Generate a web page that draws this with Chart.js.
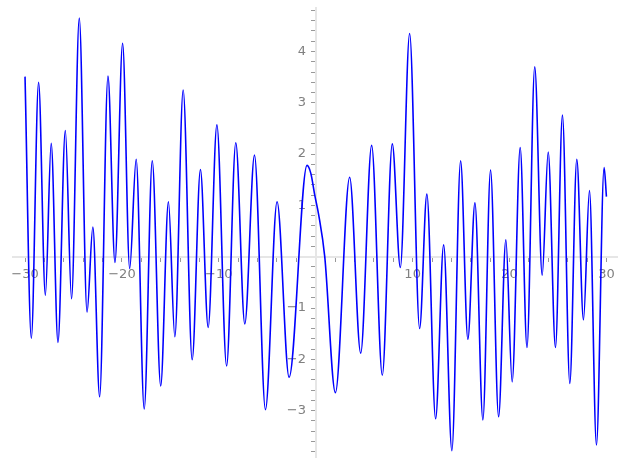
<!DOCTYPE html>
<html>
<head>
<meta charset="utf-8">
<script src="https://cdn.jsdelivr.net/npm/chart.js@4.4.0/dist/chart.umd.min.js"></script>
<style>
  html, body { margin: 0; padding: 0; background: #fff; }
  #wrap { width: 627px; height: 470px; }
</style>
</head>
<body>
<div id="wrap"><canvas id="plot"></canvas></div>
<script>
// local extrema (and a few shoulder points)
var xs = [-30, -29.35, -28.6, -27.9, -27.3, -26.6, -25.84, -25.2, -24.4, -23.6,
          -23.0, -22.3, -21.44, -20.72, -19.93, -19.2, -18.53, -17.7, -16.87, -16.0,
          -15.2, -14.54, -13.68, -12.75, -11.9, -11.1, -10.2, -9.2, -8.25, -7.32,
          -6.32, -5.19, -3.99, -2.75, -0.9, -0.5, -0.1, 0.3, 0.93, 2.03,
          3.5, 4.64, 5.77, 6.87, 7.9, 8.73, 9.69, 10.72, 11.47, 12.37,
          13.2, 14.05, 14.95, 15.7, 16.43, 17.25, 18.04, 18.87, 19.62, 20.27,
          21.1, 21.8, 22.6, 23.37, 23.99, 24.74, 25.46, 26.22, 26.94, 27.63,
          28.25, 28.97, 29.76, 30];
var ys = [3.51, -1.59, 3.40, -0.75, 2.21, -1.67, 2.46, -0.82, 4.65, -1.08,
          0.58, -2.73, 3.52, -0.11, 4.16, -0.23, 1.90, -2.97, 1.87, -2.52,
          1.07, -1.56, 3.25, -2.01, 1.70, -1.38, 2.57, -2.13, 2.22, -1.31,
          1.98, -2.98, 1.07, -2.35, 1.78, 1.62, 1.2, 0.82, 0.0, -2.65,
          1.55, -1.88, 2.17, -2.31, 2.20, -0.21, 4.35, -1.40, 1.22, -3.16,
          0.23, -3.78, 1.87, -1.61, 1.05, -3.18, 1.69, -3.12, 0.33, -2.44,
          2.13, -1.77, 3.70, -0.36, 2.04, -1.77, 2.76, -2.47, 1.90, -1.23,
          1.29, -3.67, 1.74, 1.17];

var xRange = [-31.2, 31.1];
var yRange = [-3.92, 4.85];
var xStep = 2, xLabelEvery = 10;
var yStep = 0.2, yLabelEvery = 1;

var pts = [];
for (var i = 0; i < xs.length; i++) pts.push({x: xs[i], y: ys[i]});

function minorTicks(lo, hi, step) {
  var t = [];
  for (var k = Math.ceil(lo / step); k * step <= hi; k++) t.push({value: +(k * step).toFixed(4)});
  return t;
}
function fmt(v) { return String(v).replace('-', '\u2212'); }
// axes sit inside the plot, so they must not eat layout space
function noSpace(s) {
  if (s.isHorizontal()) s.height = 0; else s.width = 0;
  s.paddingTop = s.paddingBottom = s.paddingLeft = s.paddingRight = 0;
}

var grey = '#808080';
var tickFont = {family: 'DejaVu Sans', size: 13};

new Chart(document.getElementById('plot'), {
  type: 'line',
  data: {
    datasets: [{
      data: pts,
      borderColor: '#0000ff',
      borderWidth: 1.6,
      pointRadius: 0,
      fill: false,
      cubicInterpolationMode: 'monotone'
    }]
  },
  options: {
    responsive: true,
    maintainAspectRatio: false,
    animation: false,
    layout: {padding: {left: 13.4, right: 9.9, top: 7.9, bottom: 12.2}},
    plugins: {legend: {display: false}, tooltip: {enabled: false}},
    scales: {
      x: {
        type: 'linear',
        position: {y: 0},
        min: xRange[0], max: xRange[1],
        afterBuildTicks: function(s) { s.ticks = minorTicks(xRange[0], xRange[1], xStep); },
        afterFit: noSpace,
        grid: {drawOnChartArea: false, drawTicks: true, tickLength: 4, color: '#999'},
        border: {color: '#e6e6e6', width: 2},
        ticks: {
          autoSkip: false, maxRotation: 0, color: grey, font: tickFont, padding: 6,
          callback: function(v) { return (v !== 0 && v % xLabelEvery === 0) ? fmt(v) : ''; }
        }
      },
      y: {
        type: 'linear',
        position: {x: 0},
        min: yRange[0], max: yRange[1],
        afterBuildTicks: function(s) { s.ticks = minorTicks(yRange[0], yRange[1], yStep); },
        afterFit: noSpace,
        grid: {drawOnChartArea: false, drawTicks: true, tickLength: 4, color: '#999'},
        border: {color: '#e6e6e6', width: 2},
        ticks: {
          autoSkip: false, color: grey, font: tickFont,
          callback: function(v) {
            var r = Math.round(v);
            // trailing spaces keep the label clear of the centred axis
            return (r !== 0 && Math.abs(v - r) < 1e-6) ? fmt(r) + '\u2002\u2005' : '';
          }
        }
      }
    }
  }
});
</script>
</body>
</html>
